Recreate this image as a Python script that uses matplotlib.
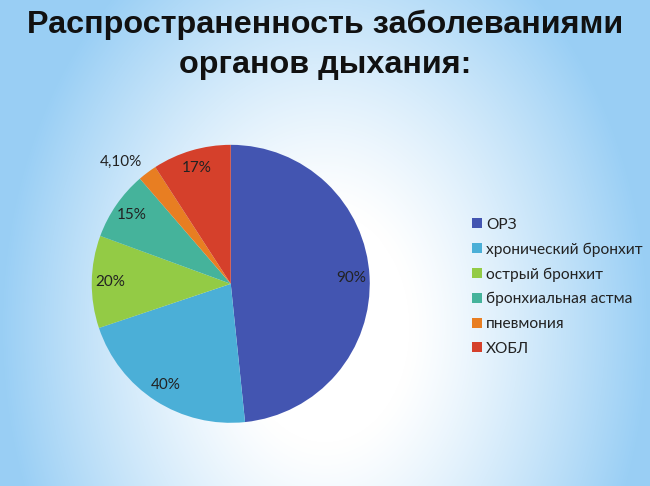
import numpy as np
import matplotlib.pyplot as plt

# data
categories = ['ОРЗ', 'хронический бронхит', 'острый бронхит',
              'бронхиальная астма', 'пневмония', 'ХОБЛ']
values = [90, 40, 20, 15, 4.1, 17]
value_labels = ['90%', '40%', '20%', '15%', '4,10%', '17%']
colors = ['#4355B1', '#4BAFD7', '#93CB45', '#45B39B', '#E87E22', '#D5402B']

fig = plt.figure(figsize=(6.5, 4.86), dpi=100)

# background: soft blue with white centre
bg = fig.add_axes([0, 0, 1, 1])
xx, yy = np.meshgrid(np.linspace(-1, 1, 650), np.linspace(-1, 1, 486))
d = np.sqrt((xx / 1.05) ** 2 + ((yy - 0.35) / 1.9) ** 2)
t = np.clip((d - 0.25) / 0.7, 0, 1) ** 1.2
edge = np.array([0.60, 0.81, 0.96])
img = (1 - t[..., None]) * np.array([1, 1, 1]) + t[..., None] * edge
bg.imshow(img, extent=[0, 1, 0, 1], aspect='auto', origin='upper')
bg.axis('off')

fig.text(0.5, 0.948, 'Распространенность заболеваниями', ha='center', va='center',
         fontsize=23.3, fontweight='bold', family='Liberation Sans', color='#111111')
fig.text(0.5, 0.866, 'органов дыхания:', ha='center', va='center',
         fontsize=23.3, fontweight='bold', family='Liberation Sans', color='#111111')

ax = fig.add_axes([0.141, 0.130, 0.428, 0.572])
wedges, _ = ax.pie(values, colors=colors, startangle=90, counterclock=False,
                   radius=1, wedgeprops={'linewidth': 0})
ax.set_xlim(-1, 1)
ax.set_ylim(-1, 1)
ax.set_aspect('equal')

for i, w in enumerate(wedges):
    ang = np.deg2rad((w.theta1 + w.theta2) / 2)
    r = 0.87
    if value_labels[i] == '4,10%':
        ang = np.deg2rad(132)
        r = 1.18
    ax.text(r * np.cos(ang), r * np.sin(ang), value_labels[i], ha='center', va='center',
            fontsize=11, family='Lato', color='#222222')

leg = fig.legend(wedges, categories, loc='center left', bbox_to_anchor=(0.705, 0.41),
                 frameon=False, handlelength=0.6, handleheight=0.6, handletextpad=0.3,
                 labelspacing=0.68, prop={'family': 'Lato', 'size': 11.2})
for txt in leg.get_texts():
    txt.set_color('#222222')

fig.savefig('out.png', dpi=100)
